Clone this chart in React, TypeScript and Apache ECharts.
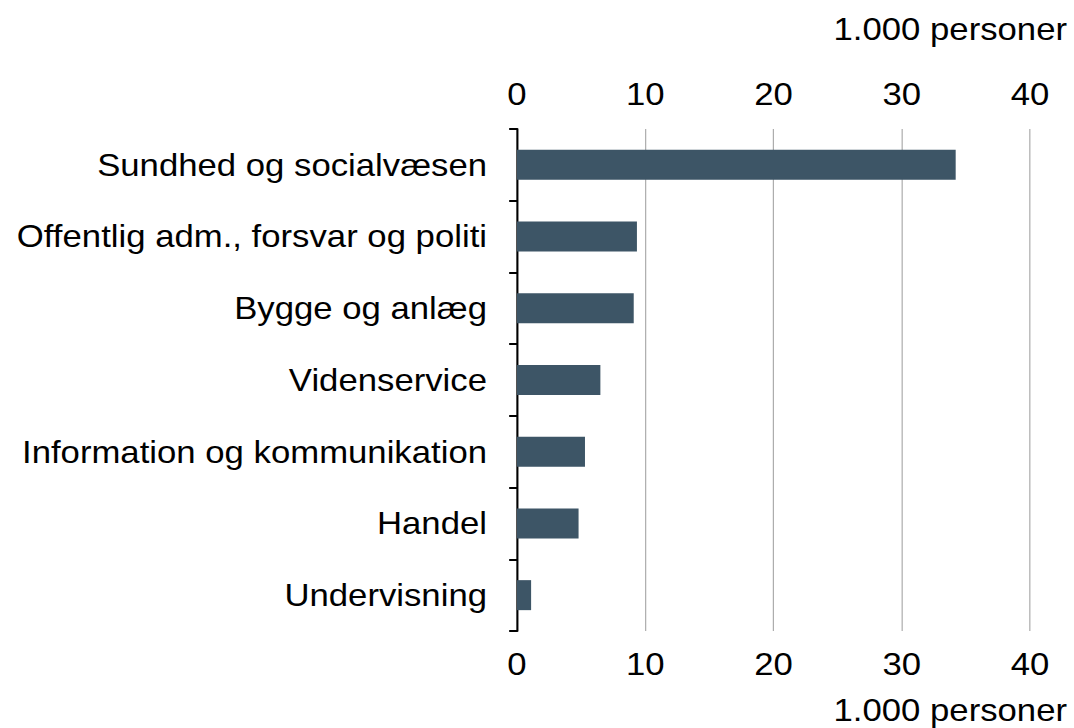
import React, { useEffect, useRef } from "react";
import * as echarts from "echarts";

const categories = [
  "Sundhed og socialvæsen",
  "Offentlig adm., forsvar og politi",
  "Bygge og anlæg",
  "Videnservice",
  "Information og kommunikation",
  "Handel",
  "Undervisning",
];
const values = [34.2, 9.35, 9.1, 6.5, 5.3, 4.8, 1.1];
const axisMin = 0;
const axisMax = 40;
const axisInterval = 10;
const unitLabel = "1.000 personer";

const FONT = "'Liberation Sans', Arial, sans-serif";
const SX = 1.12; // horizontal stretch of the reference's text
const W = 1074 / SX;

export default function App() {
  const ref = useRef<HTMLDivElement>(null);
  useEffect(() => {
    if (!ref.current) return;
    const chart = echarts.init(ref.current, undefined, { renderer: "svg" });
    const xLabel = { fontSize: 31, color: "#000", fontFamily: FONT };
    chart.setOption({
      animation: false,
      backgroundColor: "#fff",
      grid: { left: 517 / SX, right: 44 / SX, top: 129, bottom: 97, containLabel: false },
      xAxis: [
        {
          type: "value",
          position: "bottom",
          min: axisMin,
          max: axisMax,
          interval: axisInterval,
          axisLine: { show: false },
          axisTick: { show: false },
          axisLabel: { ...xLabel, margin: 18 },
          splitLine: { show: true, lineStyle: { color: "#a6a6a6", width: 1 } },
        },
        {
          type: "value",
          position: "top",
          min: axisMin,
          max: axisMax,
          interval: axisInterval,
          axisLine: { show: false },
          axisTick: { show: false },
          axisLabel: { ...xLabel, margin: 19 },
          splitLine: { show: false },
        },
      ],
      yAxis: {
        type: "category",
        data: categories,
        inverse: true,
        axisLine: { show: true, lineStyle: { color: "#000", width: 1.8 } },
        axisTick: { show: true, length: 7, lineStyle: { color: "#000", width: 2 } },
        axisLabel: { fontSize: 31, color: "#000", fontFamily: FONT, margin: 30 / SX },
        splitLine: { show: false },
      },
      series: [
        {
          type: "bar",
          xAxisIndex: 0,
          data: values,
          barWidth: 30,
          itemStyle: { color: "#3d5566" },
        },
      ],
      graphic: [
        {
          type: "text",
          right: 7 / SX,
          top: 14,
          style: { text: unitLabel, fontSize: 31, fill: "#000", fontFamily: FONT },
        },
        {
          type: "text",
          right: 7 / SX,
          top: 695,
          style: { text: unitLabel, fontSize: 31, fill: "#000", fontFamily: FONT },
        },
      ],
    });
    return () => chart.dispose();
  }, []);
  return (
    <div
      ref={ref}
      style={{
        position: "absolute",
        left: 0,
        top: 0,
        width: W,
        height: 728,
        transform: `scaleX(${SX})`,
        transformOrigin: "0 0",
      }}
    />
  );
}
